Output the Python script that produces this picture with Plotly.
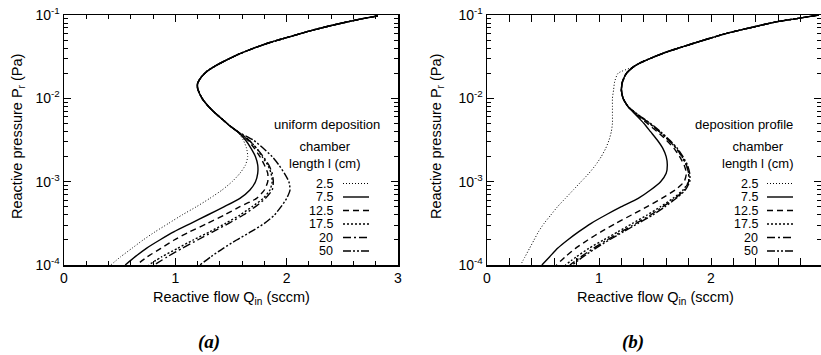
import plotly.graph_objects as go

W, H = 821, 355

# ---------------- data: panel (a) uniform deposition ----------------
SERIES_LABELS = ["2.5", "7.5", "12.5", "17.5", "20", "50"]

A_UPPER_LOGP = [-1.01, -1.05, -1.12, -1.19, -1.26, -1.33, -1.40, -1.47, -1.54, -1.61,
                -1.68, -1.75, -1.82, -1.88, -1.95, -2.02, -2.10, -2.18, -2.26, -2.32, -2.40]
A_UPPER_Q = [2.82, 2.66, 2.42, 2.21, 2.03, 1.85, 1.70, 1.57, 1.46, 1.36,
             1.28, 1.23, 1.20, 1.20, 1.22, 1.25, 1.30, 1.36, 1.43, 1.48, 1.56]

A_LOWER_LOGP = [-2.5, -2.6, -2.7, -2.8, -2.9, -3.0, -3.1, -3.2, -3.3, -3.4,
                -3.5, -3.6, -3.7, -3.8, -3.9, -4.0]
A_Q_2_5 = [1.61, 1.64, 1.65, 1.63, 1.58, 1.51, 1.42, 1.31, 1.19, 1.06, 0.94, 0.82, 0.71, 0.61, 0.51, 0.42]
A_Q_7_5 = [1.63, 1.68, 1.72, 1.74, 1.74, 1.72, 1.67, 1.58, 1.44, 1.29, 1.14, 0.99, 0.86, 0.74, 0.64, 0.55]
A_Q_12_5 = [1.65, 1.71, 1.76, 1.80, 1.83, 1.83, 1.80, 1.73, 1.58, 1.44, 1.29, 1.13, 0.99, 0.87, 0.75, 0.65]
A_Q_17_5 = [1.66, 1.73, 1.78, 1.83, 1.86, 1.87, 1.85, 1.79, 1.69, 1.58, 1.45, 1.31, 1.16, 1.02, 0.88, 0.76]
A_Q_20 = [1.66, 1.73, 1.79, 1.84, 1.87, 1.88, 1.87, 1.81, 1.72, 1.61, 1.48, 1.34, 1.20, 1.06, 0.93, 0.81]
A_Q_50 = [1.70, 1.79, 1.87, 1.93, 1.98, 2.02, 2.03, 2.00, 1.95, 1.89, 1.80, 1.68, 1.55, 1.43, 1.32, 1.22]

# ---------------- data: panel (b) deposition profile ----------------
B_UPPER_LOGP = [-1.00, -1.04, -1.08, -1.15, -1.22, -1.30, -1.38, -1.45, -1.52, -1.58, -1.62]
B_UPPER_Q = [2.96, 2.78, 2.59, 2.36, 2.14, 1.94, 1.75, 1.59, 1.46, 1.36, 1.31]

B_LOWER_LOGP = [-1.7, -1.8, -1.9, -2.0, -2.1, -2.2, -2.3, -2.4, -2.5, -2.6, -2.7, -2.8,
                -2.9, -3.0, -3.1, -3.2, -3.3, -3.4, -3.5, -3.6, -3.7, -3.8, -3.9, -4.0]
B_Q_2_5 = [1.17, 1.14, 1.13, 1.12, 1.12, 1.12, 1.12, 1.11, 1.09, 1.06, 1.02, 0.97,
           0.91, 0.84, 0.77, 0.70, 0.63, 0.57, 0.51, 0.46, 0.42, 0.38, 0.34, 0.30]
B_Q_7_5 = [1.245, 1.21, 1.20, 1.215, 1.26, 1.33, 1.40, 1.46, 1.52, 1.57, 1.60, 1.61,
           1.60, 1.55, 1.46, 1.35, 1.20, 1.06, 0.93, 0.82, 0.72, 0.63, 0.56, 0.49]
B_Q_12_5 = [1.245, 1.21, 1.20, 1.215, 1.26, 1.34, 1.43, 1.52, 1.60, 1.67, 1.72, 1.76,
            1.78, 1.76, 1.68, 1.56, 1.43, 1.29, 1.15, 1.02, 0.90, 0.79, 0.70, 0.62]
B_Q_17_5 = [1.245, 1.21, 1.20, 1.215, 1.26, 1.35, 1.45, 1.54, 1.62, 1.69, 1.74, 1.78,
            1.80, 1.80, 1.75, 1.66, 1.55, 1.43, 1.30, 1.17, 1.04, 0.91, 0.80, 0.70]
B_Q_20 = [1.245, 1.21, 1.20, 1.215, 1.26, 1.35, 1.45, 1.54, 1.62, 1.69, 1.74, 1.78,
          1.80, 1.80, 1.76, 1.68, 1.57, 1.46, 1.33, 1.20, 1.07, 0.95, 0.84, 0.74]
B_Q_50 = [1.245, 1.21, 1.20, 1.215, 1.26, 1.35, 1.46, 1.55, 1.63, 1.70, 1.75, 1.79,
          1.81, 1.81, 1.77, 1.69, 1.59, 1.48, 1.35, 1.22, 1.09, 0.97, 0.86, 0.76]

X_TICKS = [0, 1, 2, 3]
Y_TICKS = [1e-4, 1e-3, 1e-2, 1e-1]
Y_TICKTEXT = ["10<sup>-4</sup>", "10<sup>-3</sup>", "10<sup>-2</sup>", "10<sup>-1</sup>"]

# ---------------- styles ----------------
DASHES = ["1px,2px", "solid", "6px,4px", "2px,2px", "8px,3px,2px,3px", "8px,2px,2px,2px,2px,2px"]
WIDTHS = [1.0, 1.4, 1.4, 1.4, 1.4, 1.4]
FONT = "Liberation Sans, Arial, sans-serif"

A_LOWER = [A_Q_2_5, A_Q_7_5, A_Q_12_5, A_Q_17_5, A_Q_20, A_Q_50]
B_LOWER = [B_Q_2_5, B_Q_7_5, B_Q_12_5, B_Q_17_5, B_Q_20, B_Q_50]

fig = go.Figure()


def add_curves(upper_logp, upper_q, lower_logp, lowers, xa, ya):
    for i, q in enumerate(lowers):
        lp = upper_logp + lower_logp
        qq = upper_q + q
        fig.add_trace(go.Scatter(
            x=qq, y=[10 ** v for v in lp], mode="lines",
            line=dict(color="black", width=WIDTHS[i], dash=DASHES[i], shape="spline", smoothing=0.6),
            xaxis=xa, yaxis=ya, showlegend=False, hoverinfo="skip"))


add_curves(A_UPPER_LOGP, A_UPPER_Q, A_LOWER_LOGP, A_LOWER, "x", "y")
add_curves(B_UPPER_LOGP, B_UPPER_Q, B_LOWER_LOGP, B_LOWER, "x2", "y2")
# invisible trace to carry the right-hand tick column of panel (b)
fig.add_trace(go.Scatter(x=B_UPPER_Q, y=[10 ** v for v in B_UPPER_LOGP], mode="lines",
                         line=dict(width=0), opacity=0, xaxis="x2", yaxis="y3",
                         showlegend=False, hoverinfo="skip"))


def px(x):
    return x / W


def py(y):
    return 1 - y / H


ydom = [py(265), py(15)]
minor_y = [m * 10 ** e for e in (-4, -3, -2) for m in range(2, 10)]

common_x = dict(range=[0, 3], tickvals=X_TICKS, ticks="inside", ticklen=7, tickwidth=1,
                tickcolor="black", showline=True, linecolor="black", linewidth=1.5,
                mirror="allticks", showgrid=False, zeroline=False, automargin=False,
                tickfont=dict(family=FONT, size=14, color="black"),
                minor=dict(dtick=0.2, tick0=0, ticks="inside", ticklen=4, tickwidth=1,
                           tickcolor="black", showgrid=False))
common_y = dict(type="log", range=[-4, -1], tickvals=Y_TICKS, ticktext=Y_TICKTEXT,
                ticks="inside", ticklen=7, tickwidth=1, tickcolor="black",
                showline=True, linecolor="black", linewidth=1.5, showgrid=False,
                zeroline=False, automargin=False,
                tickfont=dict(family=FONT, size=14, color="black"),
                ticklabelstandoff=0,
                minor=dict(tickvals=minor_y, ticks="inside", ticklen=4, tickwidth=1,
                           tickcolor="black", showgrid=False))

fig.update_layout(
    width=W, height=H, autosize=False, margin=dict(l=0, r=0, t=0, b=0, pad=0),
    paper_bgcolor="white", plot_bgcolor="white",
    xaxis=dict(domain=[px(64), px(398)], anchor="y", **common_x),
    yaxis=dict(domain=ydom, anchor="x", mirror="allticks", **common_y),
    xaxis2=dict(domain=[px(487), 1.0], anchor="y2",
                **{**common_x, "range": [0, 3 * (821 - 487) / (823 - 487)]}),
    yaxis2=dict(domain=ydom, anchor="x2", mirror=False, **common_y),
    yaxis3=dict(overlaying="y2", anchor="x2", side="right", showticklabels=False,
                **{**common_y, "showline": False}),
)

ann = []
# axis titles
for cx in (232, 655):
    ann.append(dict(x=px(cx), y=py(298), text="Reactive flow Q<sub>in</sub> (sccm)"))
for cx in (18, 437):
    ann.append(dict(x=px(cx), y=py(137), text="Reactive pressure P<sub>r</sub> (Pa)", textangle=-90))
for a in ann:
    a.update(xref="paper", yref="paper", showarrow=False, xanchor="center", yanchor="middle",
             font=dict(family=FONT, size=14.5, color="black"))

legend_specs = [
    # title x, subtitle x, label right edge, sample start, sample end, title text
    (327, 325, 335, 343, 369, "uniform deposition"),
    (744, 758, 760, 767, 793, "deposition profile"),
]
ROW_Y = [183.5, 197, 210.5, 224, 237.5, 251]
for tx, sx, lx, s0, s1, title in legend_specs:
    ann.append(dict(x=px(tx), y=py(125), text=title, xref="paper", yref="paper", showarrow=False,
                    xanchor="center", yanchor="middle", font=dict(family=FONT, size=13, color="black")))
    ann.append(dict(x=px(sx), y=py(155), text="chamber<br>length l (cm)", xref="paper", yref="paper",
                    showarrow=False, xanchor="center", yanchor="middle", align="center",
                    font=dict(family=FONT, size=13, color="black")))
    for i, lab in enumerate(SERIES_LABELS):
        ann.append(dict(x=px(lx), y=py(ROW_Y[i]), text=lab, xref="paper", yref="paper",
                        showarrow=False, xanchor="right", yanchor="middle",
                        font=dict(family=FONT, size=12.5, color="black")))
        fig.add_shape(type="line", xref="paper", yref="paper",
                      x0=px(s0), x1=px(s1), y0=py(ROW_Y[i]), y1=py(ROW_Y[i]),
                      line=dict(color="black", width=WIDTHS[i], dash=DASHES[i]))

for cx, t in ((209, "(a)"), (633, "(b)")):
    ann.append(dict(x=px(cx), y=py(342), text="<b><i>" + t + "</i></b>", xref="paper", yref="paper",
                    showarrow=False, xanchor="center", yanchor="middle",
                    font=dict(family="Liberation Serif, Times New Roman, serif", size=19, color="black")))

fig.update_layout(annotations=ann)
fig.write_html("out.html", config={"displayModeBar": False, "staticPlot": True},
               post_script="document.body.style.margin='0';document.body.style.overflow='hidden';")
